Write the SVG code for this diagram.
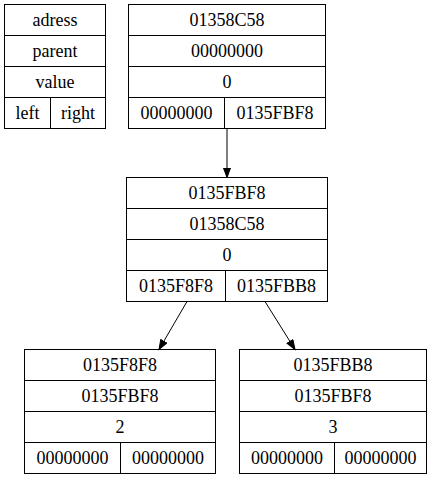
<svg xmlns="http://www.w3.org/2000/svg" width="434" height="479" viewBox="0 0 434 479">
<style>
.box{fill:#fff;stroke:#000;stroke-width:1}
.ln{stroke:#000;stroke-width:1;fill:none}
.t text{font-family:'Liberation Serif','Times New Roman',Times,serif;font-size:18px;text-anchor:middle;fill:#000}
</style>
<defs>
<marker id="ah" markerUnits="userSpaceOnUse" markerWidth="12" markerHeight="9" refX="10" refY="4" orient="auto" viewBox="0 0 12 9">
<path d="M0.5,0.5 L10,4 L0.5,7.5 z" fill="#000" stroke="#000" stroke-width="1"/>
</marker>
</defs>
<rect width="434" height="479" fill="#fff"/>
<g id="legend" class="t">
<rect class="box" x="4.5" y="4.5" width="101" height="124"/>
<path class="ln" d="M4.5,35.5H105.5M4.5,66.5H105.5M4.5,97.5H105.5M50.5,97.5V128.5"/>
<text x="55" y="26">adress</text>
<text x="55" y="57">parent</text>
<text x="55" y="88">value</text>
<text x="27.5" y="119">left</text>
<text x="78" y="119">right</text>
</g>
<g id="n01358C58" class="t">
<rect class="box" x="128.5" y="4.5" width="197" height="124"/>
<path class="ln" d="M128.5,35.5H325.5M128.5,66.5H325.5M128.5,97.5H325.5M224.5,97.5V128.5"/>
<text x="227" y="26">01358C58</text>
<text x="227" y="57">00000000</text>
<text x="227" y="88">0</text>
<text x="176.5" y="119">00000000</text>
<text x="275" y="119">0135FBF8</text>
</g>
<g id="n0135FBF8" class="t">
<rect class="box" x="126.5" y="177.5" width="201" height="124"/>
<path class="ln" d="M126.5,208.5H327.5M126.5,239.5H327.5M126.5,270.5H327.5M225.5,270.5V301.5"/>
<text x="227" y="199">0135FBF8</text>
<text x="227" y="230">01358C58</text>
<text x="227" y="261">0</text>
<text x="176" y="292">0135F8F8</text>
<text x="276.5" y="292">0135FBB8</text>
</g>
<g id="n0135F8F8" class="t">
<rect class="box" x="24.5" y="349.5" width="191" height="124"/>
<path class="ln" d="M24.5,380.5H215.5M24.5,411.5H215.5M24.5,442.5H215.5M120.5,442.5V473.5"/>
<text x="120" y="371">0135F8F8</text>
<text x="120" y="402">0135FBF8</text>
<text x="120" y="433">2</text>
<text x="72.5" y="464">00000000</text>
<text x="168" y="464">00000000</text>
</g>
<g id="n0135FBB8" class="t">
<rect class="box" x="239.5" y="349.5" width="187" height="124"/>
<path class="ln" d="M239.5,380.5H426.5M239.5,411.5H426.5M239.5,442.5H426.5M334.5,442.5V473.5"/>
<text x="333" y="371">0135FBB8</text>
<text x="333" y="402">0135FBF8</text>
<text x="333" y="433">3</text>
<text x="287" y="464">00000000</text>
<text x="380.5" y="464">00000000</text>
</g>
<g id="edges">
<path class="ln" d="M227,128.5L227,177.5" marker-end="url(#ah)"/>
<path class="ln" d="M187,301.5L159,349.5" marker-end="url(#ah)"/>
<path class="ln" d="M265,301.5L295,349.5" marker-end="url(#ah)"/>
</g>
</svg>
